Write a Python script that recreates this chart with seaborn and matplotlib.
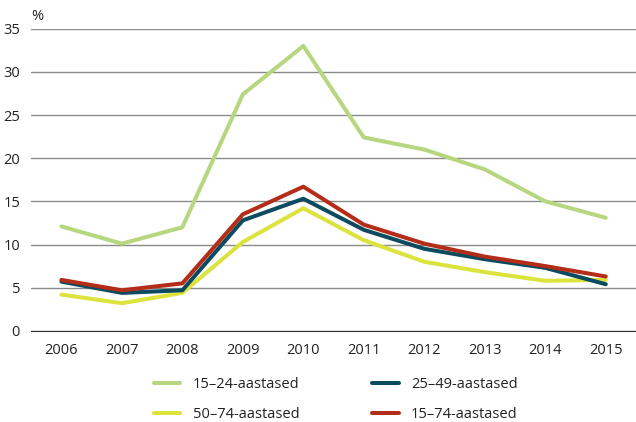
import matplotlib
matplotlib.use("Agg")
import matplotlib.pyplot as plt
import numpy as np
import pandas as pd
import seaborn as sns

# andmed
years = ["2006", "2007", "2008", "2009", "2010", "2011", "2012", "2013", "2014", "2015"]
age_15_24 = [12.1, 10.1, 12.0, 27.4, 33.0, 22.4, 21.0, 18.7, 15.0, 13.1]
age_50_74 = [4.2, 3.2, 4.4, 10.3, 14.2, 10.5, 8.0, 6.8, 5.8, 5.9]
age_25_49 = [5.7, 4.4, 4.7, 12.8, 15.3, 11.7, 9.5, 8.3, 7.3, 5.4]
age_15_74 = [5.9, 4.7, 5.5, 13.5, 16.7, 12.3, 10.1, 8.6, 7.5, 6.3]

series = {
    "15–24-aastased": age_15_24,
    "50–74-aastased": age_50_74,
    "25–49-aastased": age_25_49,
    "15–74-aastased": age_15_74,
}
colors = {
    "15–24-aastased": "#b6d77f",
    "50–74-aastased": "#dbe33c",
    "25–49-aastased": "#0c4a5f",
    "15–74-aastased": "#b32d18",
}

rows = []
for name, vals in series.items():
    for i, v in enumerate(vals):
        rows.append({"pos": i, "value": v, "group": name})
df = pd.DataFrame(rows)

sns.set_style("white")
plt.rcParams["font.family"] = ["Open Sans", "DejaVu Sans"]
fs = 10.5

fig = plt.figure(figsize=(6.36, 4.22), dpi=100)
ax = fig.add_axes([0.049, 0.216, 0.951, 0.716])

sns.lineplot(data=df, x="pos", y="value", hue="group", palette=colors,
             hue_order=list(series.keys()), linewidth=2.9, ax=ax, legend=True)

ax.set_xlim(-0.5, len(years) - 0.5)
ax.set_ylim(0, 35)
ax.set_yticks(range(0, 36, 5))
ax.yaxis.grid(True, color="#8a8a8a", linewidth=1.0)
ax.set_axisbelow(True)

ax.set_xticks(range(len(years)))
ax.set_xticklabels(years)
ax.set_xticks(np.arange(-0.5, len(years), 1.0), minor=True)
ax.tick_params(axis="x", which="major", length=0, pad=9, labelsize=fs, colors="#222222")
ax.tick_params(axis="x", which="minor", length=5, width=1, color="#333333", direction="out")
ax.tick_params(axis="y", length=0, pad=8, labelsize=fs, colors="#222222")

for side in ["left", "right", "top"]:
    ax.spines[side].set_visible(False)
ax.spines["bottom"].set_color("#333333")
ax.set_xlabel("")
ax.set_ylabel("")
ax.text(0.0, 1.03, "%", transform=ax.transAxes, fontsize=fs, color="#222222")

handles, labels = ax.get_legend_handles_labels()
ax.get_legend().remove()
fig.legend(handles, labels, loc="lower center", bbox_to_anchor=(0.528, -0.008), ncol=2,
           frameon=False, fontsize=fs, columnspacing=5.0, handlelength=1.8,
           handletextpad=0.85, labelspacing=1.05, borderaxespad=0.0, borderpad=0.2,
           labelcolor="#222222")

fig.savefig("out.png", dpi=100)
plt.close(fig)
